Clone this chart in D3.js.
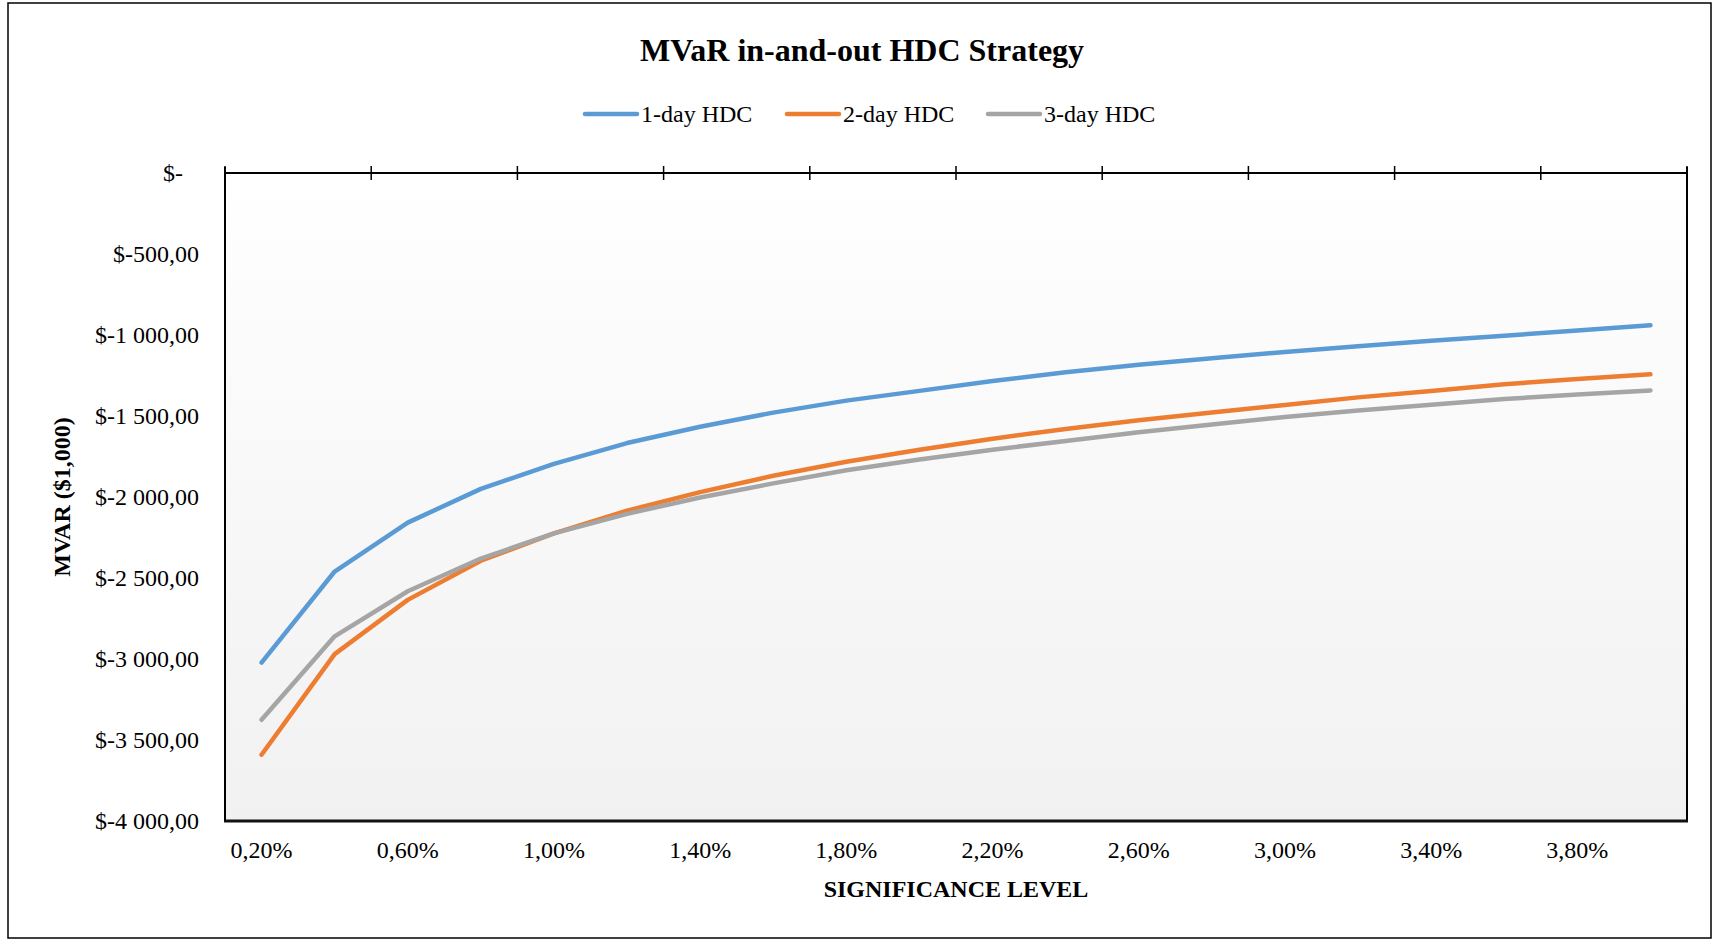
<!DOCTYPE html>
<html>
<head>
<meta charset="utf-8">
<script src="https://cdn.jsdelivr.net/npm/d3@7"></script>
<style>
  html, body { margin: 0; padding: 0; background: #ffffff; }
  svg { display: block; }
  text { font-family: "Liberation Serif", "Times New Roman", serif; fill: #000; }
</style>
</head>
<body>
<script>
// Significance levels (categories) and MVaR per holding period, in $1,000
const levels = ["0,20%", "0,40%", "0,60%", "0,80%", "1,00%", "1,20%", "1,40%", "1,60%", "1,80%", "2,00%",
                "2,20%", "2,40%", "2,60%", "2,80%", "3,00%", "3,20%", "3,40%", "3,60%", "3,80%", "4,00%"];
const oneDay = [-3022, -2460, -2158, -1950, -1795, -1667, -1566, -1479, -1405, -1345,
                -1284, -1230, -1183, -1143, -1105, -1069, -1035, -1005, -972, -940];
const twoDay = [-3591, -2970, -2635, -2393, -2225, -2084, -1970, -1869, -1782, -1708,
                -1640, -1580, -1526, -1479, -1432, -1385, -1345, -1304, -1272, -1243];
const threeDay = [-3375, -2860, -2582, -2380, -2225, -2104, -2003, -1916, -1835, -1768,
                  -1708, -1654, -1600, -1553, -1506, -1466, -1430, -1395, -1368, -1342];
const seriesNames = ["1-day HDC", "2-day HDC", "3-day HDC"];
const seriesColors = ["#5B9BD5", "#ED7D31", "#A5A5A5"];
const yTicks = [0, -500, -1000, -1500, -2000, -2500, -3000, -3500, -4000];

const W = 1716, H = 940;
const plot = { left: 225, top: 173, right: 1687, bottom: 821 };

const svg = d3.select("body").append("svg").attr("width", W).attr("height", H);

// chart frame
svg.append("rect").attr("x", 8).attr("y", 3).attr("width", 1703).attr("height", 935)
  .attr("fill", "#fff").attr("stroke", "#000").attr("stroke-width", 1.5);

const defs = svg.append("defs");
const grad = defs.append("linearGradient").attr("id", "plotBg")
  .attr("x1", 0).attr("y1", 0).attr("x2", 0).attr("y2", 1);
grad.append("stop").attr("offset", "0%").attr("stop-color", "#ffffff");
grad.append("stop").attr("offset", "100%").attr("stop-color", "#f1f1f1");

const x = d3.scaleBand().domain(levels).range([plot.left, plot.right]).padding(0);
const y = d3.scaleLinear().domain([-4000, 0]).range([plot.bottom, plot.top]);

// plot area
svg.append("rect").attr("x", plot.left).attr("y", plot.top)
  .attr("width", plot.right - plot.left).attr("height", plot.bottom - plot.top)
  .attr("fill", "url(#plotBg)");

// side and bottom borders of the plot area
svg.append("line").attr("x1", plot.right).attr("x2", plot.right)
  .attr("y1", plot.top - 6).attr("y2", plot.bottom).attr("stroke", "#000").attr("stroke-width", 2);
svg.append("line").attr("x1", plot.left - 1).attr("x2", plot.right + 1)
  .attr("y1", plot.bottom).attr("y2", plot.bottom).attr("stroke", "#111").attr("stroke-width", 3);
svg.append("line").attr("x1", plot.left).attr("x2", plot.left)
  .attr("y1", plot.top - 6).attr("y2", plot.bottom).attr("stroke", "#000").attr("stroke-width", 2);

// value formatting: $-1 000,00
const loc = d3.formatLocale({ decimal: ",", thousands: " ", grouping: [3], currency: ["$", ""], minus: "-" });
const num = loc.format(",.2f");
const fmtMoney = v => v === 0 ? "$-" : "$" + num(v);

// y axis labels (no tick marks)
const yAxis = d3.axisLeft(y).tickValues(yTicks).tickFormat(fmtMoney).tickSize(0).tickPadding(0);
const gy = svg.append("g").attr("transform", `translate(${plot.left - 26},0)`).call(yAxis);
gy.select(".domain").remove();
gy.selectAll("text").attr("font-size", 24).attr("font-family", "Liberation Serif")
  .attr("dx", d => d === 0 ? -16 : 0);

// category axis across the zero line, ticks every second category boundary
const boundaries = d3.range(0, levels.length + 1, 2).map(i => i < levels.length ? x(levels[i]) : plot.right);
svg.append("line").attr("x1", plot.left).attr("x2", plot.right)
  .attr("y1", y(0)).attr("y2", y(0)).attr("stroke", "#000").attr("stroke-width", 2);
svg.append("g").selectAll("line").data(boundaries).join("line")
  .attr("x1", d => d).attr("x2", d => d)
  .attr("y1", y(0) - 7).attr("y2", y(0) + 7)
  .attr("stroke", "#000").attr("stroke-width", 1.5);

// category labels below the plot
const xAxis = d3.axisBottom(x).tickValues(levels.filter((d, i) => i % 2 === 0)).tickSize(0).tickPadding(0);
const gx = svg.append("g").attr("transform", `translate(0,${plot.bottom + 20})`).call(xAxis);
gx.select(".domain").remove();
gx.selectAll("text").attr("font-size", 24).attr("font-family", "Liberation Serif");

// series lines
const series = [oneDay, twoDay, threeDay];
const line = d3.line().x((d, i) => x(levels[i]) + x.bandwidth() / 2).y(d => y(d));
svg.append("g").selectAll("path").data(series).join("path")
  .attr("d", line)
  .attr("fill", "none")
  .attr("stroke", (d, i) => seriesColors[i])
  .attr("stroke-width", 4.5)
  .attr("stroke-linecap", "round")
  .attr("stroke-linejoin", "round");

// title
svg.append("text").attr("x", 862).attr("y", 61).attr("text-anchor", "middle")
  .attr("font-size", 32).attr("font-weight", "bold").text("MVaR in-and-out HDC Strategy");

// legend
const legendX = [583, 785, 986];
const lg = svg.append("g").selectAll("g").data(seriesNames).join("g")
  .attr("transform", (d, i) => `translate(${legendX[i]},114)`);
lg.append("line").attr("x1", 2).attr("x2", 54).attr("y1", 0).attr("y2", 0)
  .attr("stroke", (d, i) => seriesColors[i]).attr("stroke-width", 4.5).attr("stroke-linecap", "round");
lg.append("text").attr("x", 58).attr("y", 8).attr("font-size", 24).text(d => d);

// axis titles
svg.append("text").attr("x", (plot.left + plot.right) / 2).attr("y", 897).attr("text-anchor", "middle")
  .attr("font-size", 24).attr("font-weight", "bold").text("SIGNIFICANCE LEVEL");
svg.append("text").attr("transform", `translate(70,${(plot.top + plot.bottom) / 2}) rotate(-90)`)
  .attr("text-anchor", "middle").attr("font-size", 24).attr("font-weight", "bold").text("MVAR ($1,000)");
</script>
</body>
</html>
